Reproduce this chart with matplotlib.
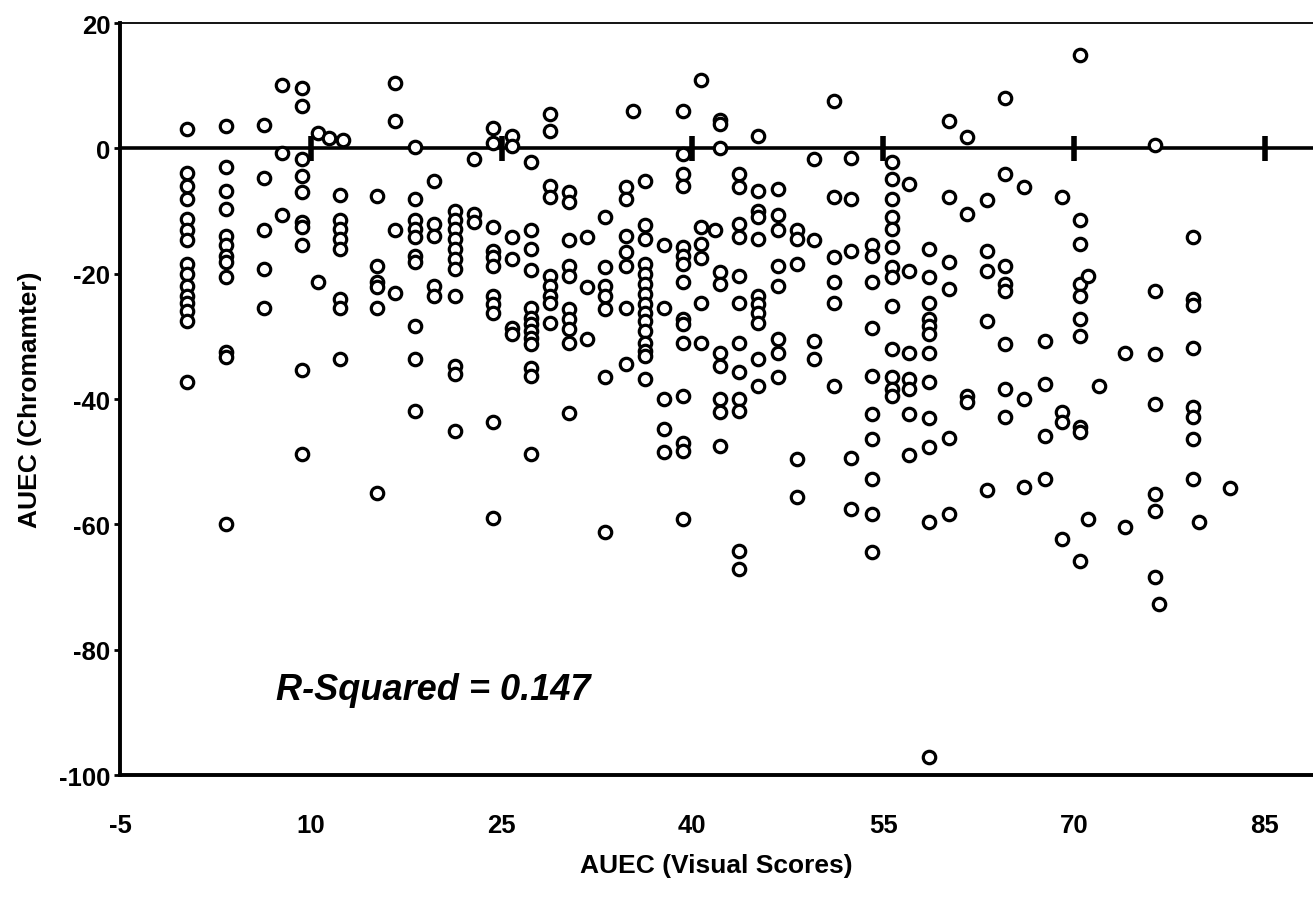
import matplotlib
matplotlib.use('Agg')
import matplotlib.pyplot as plt
import numpy as np

plt.rcParams['font.family'] = ['Liberation Sans', 'DejaVu Sans']
plt.rcParams['font.weight'] = 'bold'
plt.rcParams['axes.unicode_minus'] = False

# AUEC (Visual Scores) per point, one line per column of the scatter
visual = (
    [0.3] * 15 +
    [3.3] * 12 +
    [6.3] * 5 +
    [7.7] * 3 +
    [9.3] * 10 +
    [10.6, 10.6, 11.4, 12.5] +
    [12.3] * 8 +
    [15.2] * 6 +
    [16.6] * 4 +
    [18.2] * 10 +
    [19.7] * 5 +
    [21.3] * 11 +
    [22.8] * 3 +
    [24.3] * 11 +
    [25.8] * 6 +
    [27.3] * 13 +
    [28.8] * 9 +
    [30.3] * 10 +
    [31.7] * 3 +
    [33.1] * 7 +
    [34.8] * 7 +
    [35.3] +
    [36.3] * 15 +
    [37.8] * 5 +
    [39.3] * 15 +
    [40.7] * 6 + [41.8] +
    [42.2] * 10 +
    [43.7] * 12 +
    [45.2] * 11 +
    [46.7] * 8 +
    [48.2] * 5 +
    [49.6] * 4 +
    [51.1] * 6 +
    [52.5] * 5 +
    [54.1] * 10 +
    [55.7] * 13 +
    [57.0] * 7 +
    [58.6] * 11 +
    [60.2] * 6 +
    [61.6] * 4 +
    [63.2] * 5 +
    [64.6] * 8 +
    [66.1] * 3 +
    [67.7] * 4 +
    [69.1] * 4 +
    [70.5] * 10 +
    [71.1] * 2 +
    [72.0] +
    [74.0] * 2 +
    [76.4] * 7 + [76.7] +
    [79.4] * 8 + [79.8] +
    [82.3] +
    [58.6]
)

# AUEC (Chromamter) per point, same order
chroma = (
    [3.1, -3.9, -6.0, -8.1, -11.3, -13.0, -14.7, -18.5, -20.0, -21.9, -23.5, -24.6, -25.9, -27.5, -37.3] +
    [3.6, -3.0, -6.8, -9.7, -14.0, -15.5, -17.1, -18.2, -20.6, -32.5, -33.3, -60.0] +
    [3.7, -4.8, -13.1, -19.3, -25.4] +
    [10.1, -0.8, -10.7] +
    [9.7, 6.7, -1.7, -4.4, -7.0, -11.8, -12.6, -15.5, -35.3, -48.8] +
    [2.5, -21.4, 1.6, 1.3] +
    [-7.4, -11.5, -12.9, -14.5, -16.1, -24.0, -25.4, -33.6] +
    [-7.6, -18.7, -21.4, -22.2, -25.4, -55.0] +
    [10.5, 4.4, -13.0, -23.1] +
    [0.2, -8.1, -11.5, -12.9, -14.2, -17.1, -18.2, -28.3, -33.6, -41.9] +
    [-5.2, -12.1, -14.0, -21.9, -23.5] +
    [-10.0, -11.5, -12.9, -14.5, -16.1, -17.7, -19.3, -23.5, -34.7, -36.0, -45.1] +
    [-1.7, -10.5, -11.8] +
    [3.3, 0.9, -12.6, -16.3, -17.4, -18.7, -23.5, -24.8, -26.2, -43.7, -59.0] +
    [2.0, 0.4, -14.2, -17.7, -28.6, -29.6] +
    [-2.2, -13.0, -16.1, -19.4, -25.4, -27.0, -28.0, -29.1, -30.2, -31.2, -35.0, -36.3, -48.8] +
    [5.5, 2.8, -6.0, -7.8, -20.3, -21.9, -23.5, -24.6, -27.8] +
    [-7.0, -8.6, -14.7, -18.7, -20.3, -25.6, -27.2, -28.8, -31.0, -42.3] +
    [-14.2, -22.2, -30.4] +
    [-11.0, -19.0, -21.9, -23.5, -25.6, -36.5, -61.2] +
    [-6.2, -8.1, -14.0, -16.6, -18.7, -25.4, -34.4] +
    [5.9] +
    [-5.2, -12.3, -14.5, -18.5, -20.0, -21.6, -23.2, -24.8, -26.2, -27.5, -29.1, -31.0, -32.3, -33.1, -36.8] +
    [-15.5, -25.4, -40.0, -44.8, -48.5] +
    [6.0, -0.9, -4.1, -6.0, -15.8, -17.1, -18.5, -21.4, -27.2, -28.0, -31.0, -39.5, -47.0, -48.3, -59.1] +
    [10.9, -12.5, -15.3, -17.5, -24.6, -31.0, -13.0] +
    [4.6, 3.9, 0.0, -19.8, -21.6, -32.6, -34.7, -40.0, -42.0, -47.5] +
    [-4.1, -6.2, -12.1, -14.2, -20.3, -24.6, -31.0, -35.7, -40.0, -41.9, -64.3, -67.1] +
    [2.0, -6.8, -10.0, -11.0, -14.5, -23.5, -24.8, -26.2, -27.8, -33.6, -37.9] +
    [-6.5, -10.7, -13.1, -18.7, -21.9, -30.4, -32.6, -36.5] +
    [-13.1, -14.5, -18.5, -49.6, -55.6] +
    [-1.7, -14.7, -30.7, -33.6] +
    [7.5, -7.8, -17.4, -21.4, -24.6, -37.9] +
    [-1.5, -8.1, -16.3, -49.4, -57.5] +
    [-15.5, -17.1, -21.4, -28.6, -36.3, -42.4, -46.4, -52.8, -58.3, -64.4] +
    [-2.2, -4.9, -8.1, -11.0, -12.9, -15.8, -19.0, -20.6, -25.1, -32.0, -36.5, -38.4, -39.5] +
    [-5.7, -19.5, -32.6, -36.8, -38.4, -42.4, -48.9] +
    [-16.1, -20.6, -24.6, -27.2, -28.3, -29.6, -32.6, -37.3, -43.0, -47.7, -59.6] +
    [4.4, -7.8, -18.2, -22.5, -46.2, -58.3] +
    [1.8, -10.5, -39.5, -40.5] +
    [-8.3, -16.3, -19.5, -27.5, -54.5] +
    [8.1, -4.1, -18.7, -21.6, -22.7, -31.2, -38.4, -42.9] +
    [-6.2, -40.0, -54.1] +
    [-30.7, -37.6, -45.9, -52.8] +
    [-7.8, -42.1, -43.7, -62.3] +
    [14.9, -11.5, -15.3, -21.6, -23.5, -27.2, -29.9, -44.5, -45.2, -65.8] +
    [-20.3, -59.1] +
    [-37.9] +
    [-32.6, -60.4] +
    [0.5, -22.7, -32.8, -40.8, -55.2, -57.9, -68.4, -72.7] +
    [-14.2, -24.0, -25.0, -31.8, -41.3, -42.9, -46.4, -52.8, -59.6] +
    [-54.2] +
    [-97.1]
)

x_ticks = [-5, 10, 25, 40, 55, 70, 85]
y_ticks = [20, 0, -20, -40, -60, -80, -100]
r_squared = 0.147

fig = plt.figure(figsize=(13.13, 9.03), dpi=100)
ax = fig.add_axes([0.0914, 0.1406, 0.9086, 0.8328])

ax.scatter(visual, chroma, s=80, facecolors='white', edgecolors='black',
           linewidths=2.3, zorder=3)

# zero line with its own tick marks
ax.axhline(0, color='black', linewidth=2.6, zorder=2)
ax.plot(x_ticks[1:], [0] * (len(x_ticks) - 1), linestyle='none', marker='|',
        markersize=18, markeredgewidth=4, color='black', zorder=2)

ax.set_xlim(-5, 88.8)
ax.set_ylim(-100, 20)
ax.set_xticks(x_ticks)
ax.set_yticks(y_ticks)
ax.tick_params(axis='x', length=0, pad=27, labelsize=18.5)
ax.tick_params(axis='y', length=4, width=2, pad=3, labelsize=18.5)

ax.spines['right'].set_visible(False)
ax.spines['left'].set_linewidth(2.8)
ax.spines['bottom'].set_linewidth(2.8)
ax.spines['top'].set_linewidth(1.3)

ax.set_xlabel('AUEC (Visual Scores)', fontsize=19, fontweight='bold', labelpad=12)
ax.set_ylabel('AUEC (Chromamter)', fontsize=19, fontweight='bold', labelpad=12)

ax.text(7.3, -86.3, 'R-Squared = {}'.format(r_squared), fontsize=26,
        fontweight='bold', fontstyle='italic', va='center', ha='left')

fig.savefig('out.png', dpi=100)
